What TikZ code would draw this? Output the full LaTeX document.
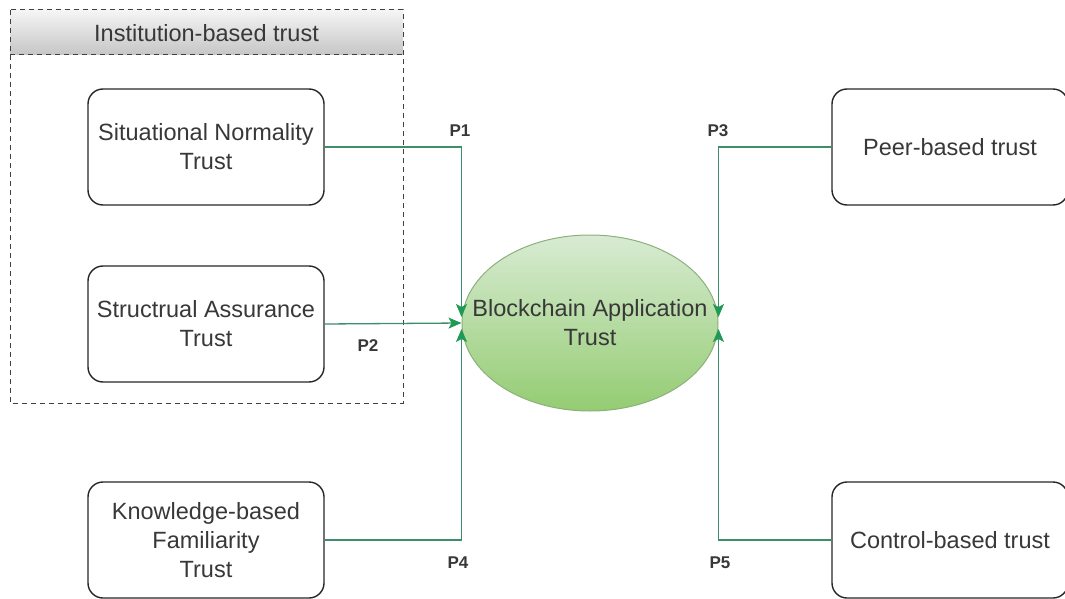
\documentclass[tikz,border=0pt]{standalone}
\usepackage{fontspec}
\setmainfont{Liberation Sans}
\usetikzlibrary{shapes.geometric,arrows.meta,positioning,calc}
\definecolor{txt}{HTML}{383838}
\definecolor{link}{HTML}{3E8E6C}
\definecolor{tip}{HTML}{1E9A55}
\definecolor{leafhi}{HTML}{D8EBD3}
\definecolor{leaflo}{HTML}{94CC72}
\definecolor{leafedge}{HTML}{8CB07A}
\tikzset{
  trustbox/.style={draw=black!85, line width=1.4pt, rounded corners=15pt,
    minimum width=236pt, minimum height=116pt, align=center,
    text=txt, font=\fontsize{23.5}{29}\selectfont},
  conn/.style={draw=link, line width=1.3pt,
    -{Stealth[length=13pt,width=11pt,inset=3pt,color=tip]}},
  plabel/.style={text=txt, font=\fontsize{17}{20}\selectfont\bfseries},
  groupline/.style={draw=black!75, line width=1pt, dash pattern=on 5pt off 4pt}
}
\begin{document}
\begin{tikzpicture}[x=1pt,y=-1pt]
\useasboundingbox (0,0) rectangle (1065,599);

% institution-based group: header band and dashed frame
\shade[top color=gray!8, bottom color=gray!45] (10,10) rectangle (403,55);
\draw[groupline] (10,10) rectangle (403,403);
\draw[groupline] (10,55) -- (403,55);
\node[text=txt, font=\fontsize{23.5}{29}\selectfont] (grp) at (206.5,33) {Institution-based trust};

% antecedent boxes
\node[trustbox] (sn) at (206,147) {Situational Normality\\Trust};
\node[trustbox] (sa) at (206,324) {Structrual Assurance\\Trust};
\node[trustbox] (kf) at (206,540) {Knowledge-based\\Familiarity\\Trust};
\node[trustbox] (pb) at (950,147) {Peer-based trust};
\node[trustbox] (cb) at (950,540) {Control-based trust};

% central construct: fixed-size ellipse with its caption laid over it
\node[ellipse, draw=leafedge, line width=1pt, top color=leafhi, bottom color=leaflo,
  minimum width=256pt, minimum height=176pt, inner sep=0pt] (bat) at (590,323) {};
\node[align=center, text=txt, font=\fontsize{23.5}{29}\selectfont] (battext)
  at (bat.center) {Blockchain Application\\Trust};

% arrow end points on the ellipse sides
\coordinate (lt) at ([yshift=6pt]bat.west);
\coordinate (lb) at ([yshift=-6pt]bat.west);
\coordinate (rt) at ([yshift=6pt]bat.east);
\coordinate (rb) at ([yshift=-6pt]bat.east);

% propositions
\draw[conn] (sn.east) -| (lt);
\draw[conn] (sa.east) -- (bat.west);
\draw[conn] (kf.east) -| (lb);
\draw[conn] (pb.west) -| (rt);
\draw[conn] (cb.west) -| (rb);

\node[plabel] (p1) at (460,131) {P1};
\node[plabel] (p2) at (368,346) {P2};
\node[plabel] (p3) at (718,131) {P3};
\node[plabel] (p4) at (458,563) {P4};
\node[plabel] (p5) at (720,563) {P5};
\end{tikzpicture}
\end{document}
